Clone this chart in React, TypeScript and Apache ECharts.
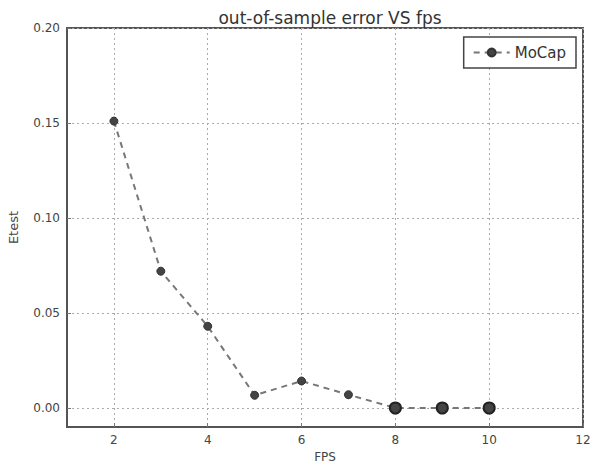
import React, { useEffect, useRef } from "react";
import * as echarts from "echarts";

const fps = [2, 3, 4, 5, 6, 7, 8, 9, 10];
const etest = [0.151, 0.072, 0.043, 0.0067, 0.0142, 0.007, 0, 0, 0];
const xTicks = [2, 4, 6, 8, 10, 12];
const yTicks = [0.0, 0.05, 0.1, 0.15, 0.2];
const seriesName = "MoCap";

export default function App() {
  const ref = useRef<HTMLDivElement>(null);
  useEffect(() => {
    const chart = echarts.init(ref.current!, null, { renderer: "svg" });
    const font = "DejaVu Sans";
    chart.setOption({
      animation: false,
      backgroundColor: "#fff",
      title: {
        text: "out-of-sample error VS fps",
        left: 325,
        textAlign: "center",
        top: 4,
        textStyle: { fontFamily: font, fontSize: 17, fontWeight: "normal", color: "#333" },
      },
      grid: {
        left: 67,
        right: 9,
        top: 28,
        bottom: 36,
        outerBoundsMode: "none",
        containLabel: false,
        show: true,
        borderColor: "#555",
        borderWidth: 2,
      },
      legend: {
        right: 16,
        top: 37,
        data: [seriesName],
        backgroundColor: "#fff",
        borderColor: "#444",
        borderWidth: 1.5,
        borderRadius: 0,
        padding: [8, 10, 8, 9],
        itemWidth: 36,
        itemHeight: 10,
        itemGap: 8,
        textStyle: { fontFamily: font, fontSize: 15, color: "#333" },
      },
      xAxis: {
        type: "value",
        min: 1,
        max: 12,
        name: "FPS",
        nameLocation: "middle",
        nameGap: 24,
        nameTextStyle: { fontFamily: font, fontSize: 12, color: "#444" },
        axisLine: { show: true, onZero: false, lineStyle: { color: "#555", width: 2 } },
        axisTick: { show: true, inside: true, length: 4, customValues: xTicks, lineStyle: { color: "#777" } },
        axisLabel: { customValues: xTicks, fontFamily: font, fontSize: 12, color: "#444", margin: 7 },
        splitLine: { show: true, lineStyle: { type: [2, 3], color: "#aaa", width: 1 } },
      },
      yAxis: {
        type: "value",
        min: -0.01,
        max: 0.2,
        name: "Etest",
        nameLocation: "middle",
        nameGap: 47,
        nameRotate: 90,
        nameTextStyle: { fontFamily: font, fontSize: 13, color: "#444" },
        axisLine: { show: true, onZero: false, lineStyle: { color: "#555", width: 2 } },
        axisTick: { show: true, inside: true, length: 4, customValues: yTicks, lineStyle: { color: "#777" } },
        axisLabel: {
          customValues: yTicks,
          fontFamily: font,
          fontSize: 12,
          color: "#444",
          margin: 7,
          formatter: (v: number) => v.toFixed(2),
        },
        splitLine: { show: true, lineStyle: { type: [2, 3], color: "#aaa", width: 1 } },
      },
      series: [
        {
          name: seriesName,
          type: "line",
          data: fps.map((x, i) => ({
            value: [x, etest[i]],
            symbolSize: x >= 8 ? 11 : 8,
            itemStyle: x >= 8 ? { borderColor: "#222", borderWidth: 2 } : undefined,
          })),
          symbol: "circle",
          symbolSize: 8,
          lineStyle: { type: [6, 5], color: "#777", width: 2 },
          itemStyle: { color: "#444", borderColor: "#333", borderWidth: 1 },
        },
      ],
    });
    return () => chart.dispose();
  }, []);
  return <div ref={ref} style={{ width: 592, height: 463, position: "absolute", left: 0, top: 0 }} />;
}
